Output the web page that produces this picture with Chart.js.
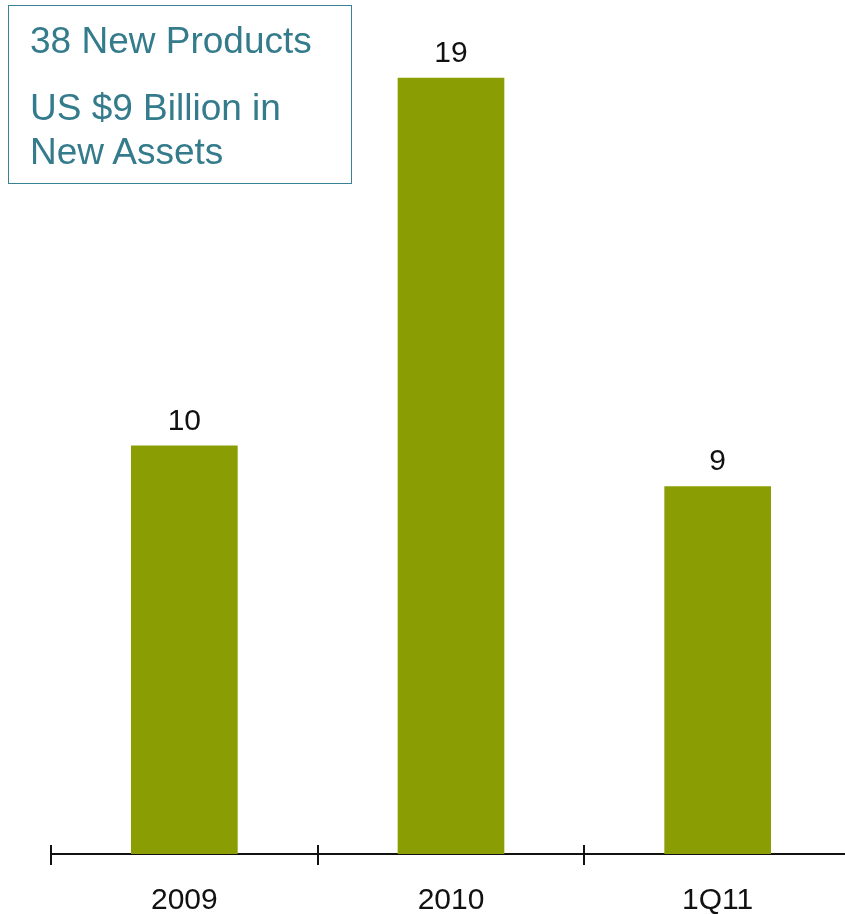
<!DOCTYPE html>
<html>
<head>
<meta charset="utf-8">
<script src="https://cdn.jsdelivr.net/npm/chart.js@4.4.1/dist/chart.umd.min.js"></script>
<style>
  html, body { margin: 0; padding: 0; background: #ffffff; overflow: hidden; }
  #wrap { position: relative; width: 845px; height: 914px; overflow: hidden; }
  #chart { position: absolute; left: 0; top: 0; }
  #note {
    position: absolute; left: 8px; top: 5px; width: 344px; height: 179px;
    border: 1.5px solid #3a8396; box-sizing: border-box;
    font-family: "Liberation Sans", Arial, sans-serif; font-size: 37px;
    color: #347b8c; line-height: 44px;
  }
  #note .l1 { position: absolute; left: 21px; top: 13px; white-space: nowrap; }
  #note .l2 { position: absolute; left: 21px; top: 80px; white-space: nowrap; }
</style>
</head>
<body>
<div id="wrap">
  <canvas id="chart" width="860" height="948"></canvas>
  <div id="note">
    <div class="l1">38 New Products</div>
    <div class="l2">US $9 Billion in<br>New Assets</div>
  </div>
</div>
<script>
const categories = ["2009", "2010", "1Q11"];
const newProducts = [10, 19, 9];

const barColor = "#8a9e04";
const fontFamily = '"Liberation Sans", Arial, sans-serif';

// Value labels above each bar
const valueLabels = {
  id: "valueLabels",
  afterDatasetsDraw(chart) {
    const ctx = chart.ctx;
    const meta = chart.getDatasetMeta(0);
    ctx.save();
    ctx.font = "30px " + fontFamily;
    ctx.fillStyle = "#111111";
    ctx.textAlign = "center";
    ctx.textBaseline = "alphabetic";
    meta.data.forEach((bar, i) => {
      ctx.fillText(String(newProducts[i]), bar.x, bar.y - 16);
    });
    ctx.restore();
  }
};

// Category boundary tick marks crossing the axis line
const boundaryTicks = {
  id: "boundaryTicks",
  afterDraw(chart) {
    const ctx = chart.ctx;
    const xs = chart.scales.x;
    const y = chart.chartArea.bottom;
    const n = categories.length;
    ctx.save();
    ctx.strokeStyle = "#111111";
    ctx.lineWidth = 2;
    for (let i = 0; i < n; i++) {
      const x = Math.round(xs.getPixelForValue(i - 0.5));
      ctx.beginPath();
      ctx.moveTo(x, y - 9);
      ctx.lineTo(x, y + 11);
      ctx.stroke();
    }
    ctx.restore();
  }
};

new Chart(document.getElementById("chart"), {
  type: "bar",
  data: {
    labels: categories,
    datasets: [{
      data: newProducts,
      backgroundColor: barColor,
      borderWidth: 0,
      barPercentage: 0.4,
      categoryPercentage: 1.0
    }]
  },
  options: {
    responsive: false,
    animation: false,
    layout: { padding: { left: 51, right: 9, top: 37, bottom: 0 } },
    plugins: { legend: { display: false }, tooltip: { enabled: false } },
    scales: {
      x: {
        offset: true,
        grid: { display: false, drawTicks: false },
        border: { display: true, color: "#111111", width: 2 },
        ticks: {
          color: "#111111",
          padding: 29,
          font: { family: fontFamily, size: 30 }
        }
      },
      y: {
        display: false,
        min: 0,
        max: 20
      }
    }
  },
  plugins: [valueLabels, boundaryTicks]
});
</script>
</body>
</html>
